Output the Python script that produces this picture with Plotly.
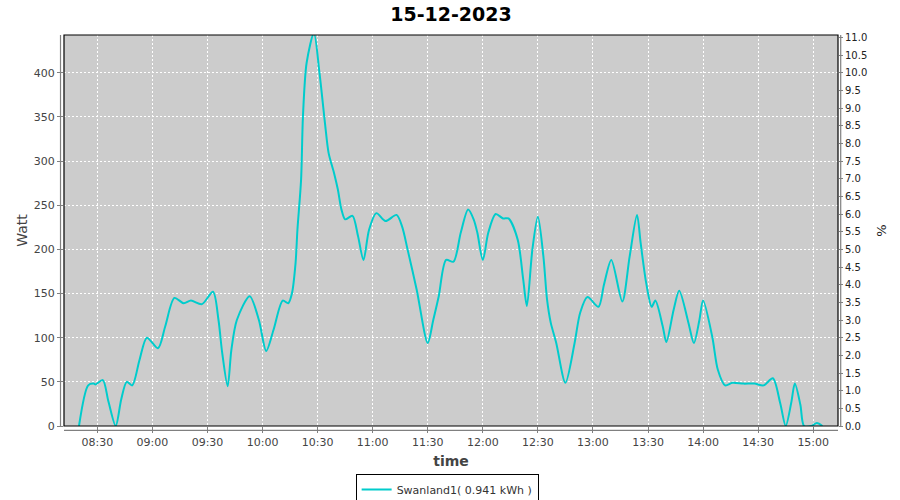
import plotly.graph_objects as go

DATE = "2023-12-15"
times = [
    "08:20", "08:25", "08:28", "08:29", "08:33", "08:36", "08:40", "08:43", "08:46", "08:49",
    "08:53", "08:57", "09:03", "09:07", "09:12", "09:17", "09:21", "09:27", "09:33", "09:36",
    "09:38", "09:41", "09:43", "09:46", "09:53", "09:58", "10:02", "10:06", "10:11", "10:14",
    "10:16", "10:18", "10:19", "10:21", "10:22", "10:24", "10:28", "10:31", "10:34", "10:36",
    "10:39", "10:41", "10:43", "10:45", "10:49", "10:52", "10:55", "10:58", "11:02", "11:07",
    "11:13", "11:16", "11:19", "11:24", "11:30", "11:33", "11:36", "11:40", "11:44", "11:48",
    "11:52", "11:55", "11:57", "12:00", "12:03", "12:07", "12:11", "12:14", "12:19", "12:22",
    "12:24", "12:27", "12:30", "12:33", "12:35", "12:37", "12:40", "12:45", "12:50", "12:53",
    "12:57", "13:03", "13:06", "13:10", "13:16", "13:20", "13:24", "13:26", "13:29", "13:32",
    "13:34", "13:38", "13:40", "13:44", "13:47", "13:52", "13:55", "13:58", "14:00", "14:05",
    "14:08", "14:12", "14:16", "14:22", "14:28", "14:33", "14:38", "14:42", "14:45", "14:48",
    "14:50", "14:53", "14:55", "14:59", "15:02", "15:05",
]
watts = [
    0, 46, 48, 47, 52, 28, 0, 30, 50, 46,
    75, 100, 88, 113, 145, 139, 142, 138, 152, 120,
    83, 45, 86, 120, 147, 120, 85, 109, 142, 139,
    150, 185, 222, 279, 350, 411, 445, 400, 343, 309,
    286, 268, 245, 234, 238, 215, 188, 222, 241, 232,
    239, 226, 200, 154, 94, 120, 147, 188, 186, 219,
    245, 234, 219, 188, 219, 240, 235, 235, 211, 166,
    136, 200, 237, 192, 143, 117, 94, 49, 94, 128,
    146, 135, 160, 188, 141, 192, 239, 207, 162, 135,
    142, 113, 95, 132, 153, 117, 94, 120, 142, 101,
    64, 46, 49, 48, 48, 46, 54, 26, 0, 26,
    48, 24, 0, 0, 3.5, 0,
]
x_ticks = ["08:30", "09:00", "09:30", "10:00", "10:30", "11:00", "11:30", "12:00",
           "12:30", "13:00", "13:30", "14:00", "14:30", "15:00"]
legend_label = "Swanland1( 0.941 kWh )"
title_text = "15-12-2023"

xs = [f"{DATE} {t}" for t in times]
tickvals = [f"{DATE} {t}" for t in x_ticks]

W, H = 900, 500

fig = go.Figure()
fig.add_trace(go.Scatter(
    x=xs, y=watts, mode="lines", name=legend_label,
    line=dict(color="#00CCCC", width=2, shape="spline", smoothing=0.8),
))
fig.add_trace(go.Scatter(
    x=[xs[0]], y=[None], yaxis="y2", mode="lines", showlegend=False,
    hoverinfo="skip", line=dict(color="rgba(0,0,0,0)"),
))

grid = dict(showgrid=True, gridcolor="white", griddash="2px,2px", gridwidth=1)
tickfont = dict(family="DejaVu Sans", size=11, color="#444444")

fig.update_layout(
    width=W, height=H,
    margin=dict(l=64, r=62, t=35, b=74, autoexpand=False),
    paper_bgcolor="white", plot_bgcolor="#CCCCCC",
    title=dict(text=f"<b>{title_text}</b>", x=(64 + 838) / 2 / W, xanchor="center",
               y=1 - 14 / H, yanchor="middle", yref="container",
               font=dict(family="DejaVu Sans", size=19, color="black")),
    xaxis=dict(
        type="date", range=[f"{DATE} 08:11:50", f"{DATE} 15:13:30"],
        tickvals=tickvals, ticktext=x_ticks, ticks="outside", ticklen=6,
        tickcolor="#808080", tickfont=tickfont, zeroline=False, automargin=False,
        title=dict(text="<b>time</b>", font=dict(family="DejaVu Sans", size=14, color="#444444"),
                   standoff=7),
        **grid,
    ),
    yaxis=dict(
        range=[0, 442.7], dtick=50, tick0=0, ticks="outside", ticklen=6,
        tickcolor="#808080", tickfont=tickfont, zeroline=False, automargin=False,
        title=dict(text="Watt", font=dict(family="DejaVu Sans", size=14, color="#444444"),
                   standoff=2),
        **grid,
    ),
    yaxis2=dict(
        overlaying="y", side="right", range=[0, 442.7 / 40], dtick=0.5, tick0=0,
        tickformat=".1f", ticks="outside", ticklen=4, tickcolor="#808080",
        tickfont=dict(family="DejaVu Sans", size=10, color="#222222"),
        showgrid=False, zeroline=False, automargin=False,
        title=dict(text="%", font=dict(family="DejaVu Sans", size=13, color="#222222"),
                   standoff=10),
    ),
    legend=dict(
        orientation="h", x=0.495, xanchor="center", y=-0.1228, yanchor="top",
        bordercolor="black", borderwidth=1, bgcolor="white",
        font=dict(family="DejaVu Sans", size=11, color="#333333"),
        itemwidth=30,
    ),
    showlegend=True,
)

# plot-area border and offset axis lines
fig.add_shape(type="rect", xref="paper", yref="paper", x0=0, x1=1, y0=0, y1=1,
              line=dict(color="black", width=1.2), layer="above")
fig.add_shape(type="line", xref="paper", yref="paper", x0=-0.0045, x1=-0.0045, y0=0, y1=1,
              line=dict(color="#808080", width=1.2))
fig.add_shape(type="line", xref="paper", yref="paper", x0=1.0035, x1=1.0035, y0=0, y1=1,
              line=dict(color="#808080", width=1.2))
fig.add_shape(type="line", xref="paper", yref="paper", x0=0, x1=1, y0=-0.011, y1=-0.011,
              line=dict(color="#808080", width=1.2))

# remove the browser's default 8px body margin so the 900x500 figure fills the window
fig.write_html("out.html", config={"displayModeBar": False},
               post_script="document.body.style.margin='0px';")
